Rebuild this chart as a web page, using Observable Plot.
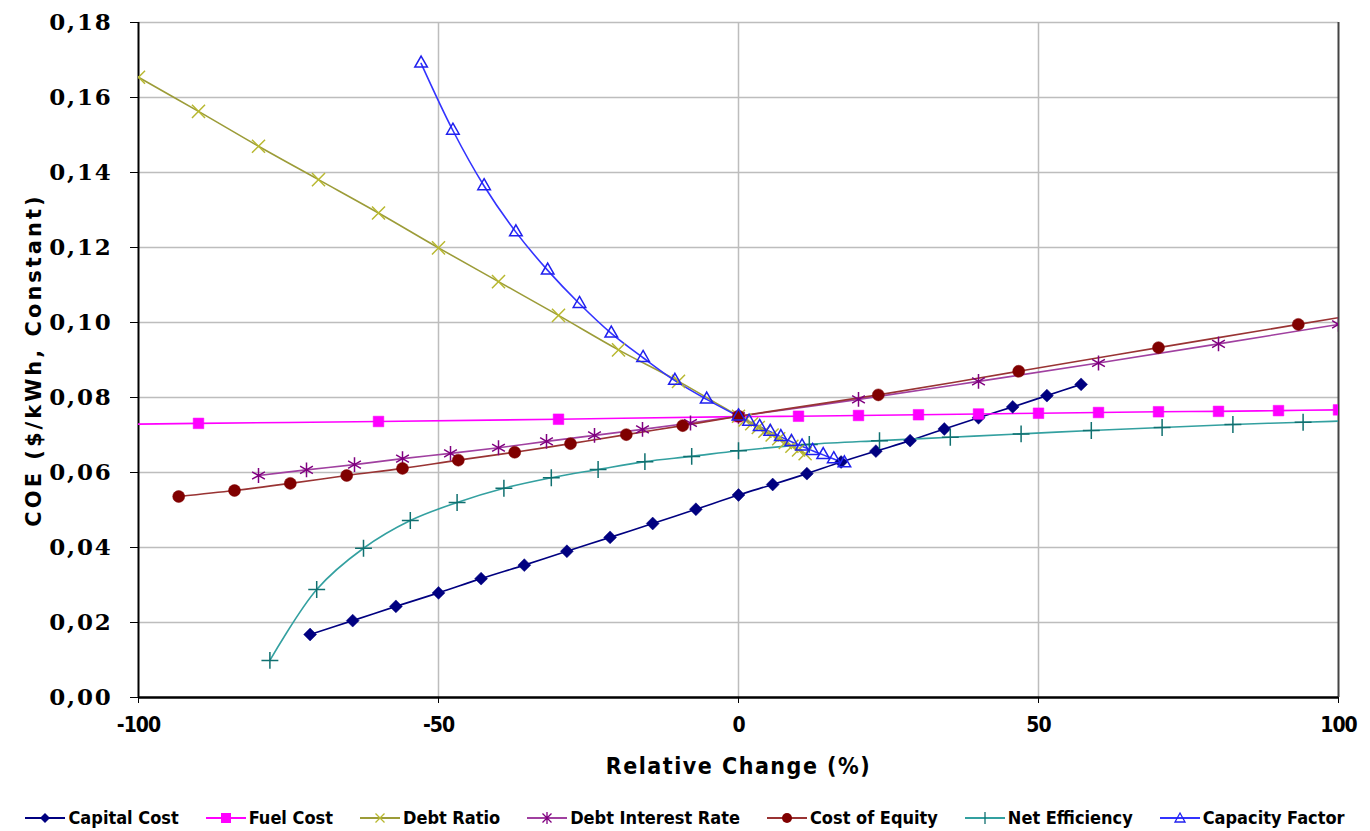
<!DOCTYPE html>
<html><head><meta charset="utf-8">
<script src="https://cdn.jsdelivr.net/npm/d3@7"></script>
<script src="https://cdn.jsdelivr.net/npm/@observablehq/plot@0.6"></script>
<style>
body{margin:0;background:#fff;}
#chart svg{display:block;overflow:visible;background:#fff}
#chart g[aria-label="y-axis tick label"] text{font-family:"DejaVu Serif",serif;font-weight:bold;font-size:23px;letter-spacing:1.8px;fill:#000}
#chart g[aria-label="x-axis tick label"] text{font-family:"DejaVu Sans Condensed",sans-serif;font-weight:bold;font-size:21px;letter-spacing:-1px;fill:#000}
#chart g[aria-label="x-axis label"] text{font-family:"DejaVu Sans Condensed",sans-serif;font-weight:bold;font-size:23px;letter-spacing:1.5px;fill:#000}
#chart g[aria-label="y-axis label"] text{font-family:"DejaVu Sans",sans-serif;font-weight:bold;font-size:21px;letter-spacing:3px;fill:#000}
#legend{display:flex;justify-content:center;align-items:center;gap:27px;height:41px;padding-top:14px;box-sizing:border-box;font-family:"DejaVu Sans Condensed",sans-serif;font-weight:bold;font-size:18px;color:#000}
#legend .item{display:flex;align-items:center;gap:3px}
</style></head><body>
<div id="chart"></div>
<div id="legend"></div>
<script>
// ---- data ----
const seriesNames = ["Capital Cost","Fuel Cost","Debt Ratio","Debt Interest Rate","Cost of Equity","Net Efficiency","Capacity Factor"];

const capitalX = [-71.4,-64.3,-57.1,-50,-42.9,-35.7,-28.6,-21.4,-14.3,-7.1,0,5.7,11.4,17.1,22.9,28.6,34.3,40,45.7,51.4,57.1];
const capitalY = [0.0168,0.0205,0.0243,0.0279,0.0317,0.0353,0.0390,0.0427,0.0464,0.0502,0.0540,0.0568,0.0597,0.0628,0.0657,0.0685,0.0716,0.0746,0.0775,0.0805,0.0835];

const fuelX = [-120,-90,-60,-30,0,10,20,30,40,50,60,70,80,90,100];
const fuelY = [0.0725,0.0731,0.0736,0.0742,0.0749,0.0750,0.0752,0.0754,0.0756,0.0758,0.0760,0.0762,0.0763,0.0765,0.0767];

const debtRatioX = [-100,-90,-80,-70,-60,-50,-40,-30,-20,-10,0,1.1,2.2,3.3,4.4,5.6,6.7,7.8,8.9,10,11.1];
const debtRatioY = [0.1654,0.1563,0.1470,0.1381,0.1292,0.1199,0.1109,0.1019,0.0927,0.0843,0.0750,0.0740,0.0730,0.0720,0.0710,0.0700,0.0690,0.0680,0.0670,0.0660,0.0650];

const debtRateX = [-80,-72,-64,-56,-48,-40,-32,-24,-16,-8,0,20,40,60,80,100];
const debtRateY = [0.0592,0.0607,0.0621,0.0637,0.0651,0.0666,0.0683,0.0699,0.0715,0.0732,0.0750,0.0795,0.0843,0.0892,0.0943,0.0995];

const equityX = [-93.3,-84,-74.7,-65.3,-56,-46.7,-37.3,-28,-18.7,-9.3,0,23.3,46.7,70,93.3,116.7];
const equityY = [0.0536,0.0552,0.0571,0.0592,0.0611,0.0633,0.0654,0.0677,0.0701,0.0725,0.0750,0.0807,0.0870,0.0933,0.0995,0.1057];

const efficiencyX = [-78.1,-70.3,-62.5,-54.7,-46.9,-39.1,-31.2,-23.4,-15.6,-7.8,0,11.8,23.5,35.3,47.1,58.8,70.6,82.4,94.1,105.9];
const efficiencyY = [0.0099,0.0288,0.0398,0.0472,0.0520,0.0558,0.0586,0.0608,0.0629,0.0643,0.0658,0.0675,0.0685,0.0694,0.0703,0.0712,0.0720,0.0728,0.0734,0.0740];

const capacityX = [-52.9,-47.6,-42.4,-37.1,-31.8,-26.5,-21.2,-15.9,-10.6,-5.3,0,1.76,3.53,5.29,7.06,8.82,10.59,12.35,14.12,15.88,17.65];
const capacityY = [0.1691,0.1512,0.1364,0.1241,0.1139,0.1050,0.0971,0.0906,0.0845,0.0795,0.0750,0.0736,0.0722,0.0709,0.0695,0.0682,0.0670,0.0658,0.0647,0.0636,0.0625];

const xTicks = [-100,-50,0,50,100];
const yTicks = [0,0.02,0.04,0.06,0.08,0.10,0.12,0.14,0.16,0.18];

// ---- styles ----
const styles = [
  {line:"#000080", mark:"#000080", symbol:"diamond2", fill:true, r:5.8},
  {line:"#ff00ff", mark:"#ff00ff", symbol:"square", fill:true, r:6},
  {line:"#9c9c38", mark:"#b8b830", symbol:"times", fill:false, r:6},
  {line:"#a040a0", mark:"#800080", symbol:"asterisk", fill:false, r:7},
  {line:"#993333", mark:"#800000", symbol:"circle", fill:true, r:6},
  {line:"#33a0a0", mark:"#107070", symbol:"plus", fill:false, r:5.5},
  {line:"#3333ff", mark:"#2020ee", symbol:"triangle2", fill:false, r:6}
];
const xs = [capitalX,fuelX,debtRatioX,debtRateX,equityX,efficiencyX,capacityX];
const ys = [capitalY,fuelY,debtRatioY,debtRateY,equityY,efficiencyY,capacityY];
const tables = xs.map((X,i)=>X.map((x,j)=>({series:seriesNames[i], x, y:ys[i][j]})));

const marks = [
  Plot.gridY(yTicks.filter(d=>d>0), {stroke:"#bdbdbd", strokeOpacity:1, strokeWidth:1.5}),
  Plot.gridX([-50,0,50], {stroke:"#bdbdbd", strokeOpacity:1, strokeWidth:1.5}),
  Plot.ruleX([100], {stroke:"#444", strokeWidth:2}),
  Plot.axisY({ticks:yTicks, tickFormat:d=>d3.format(".2f")(d).replace(".",","), tickSize:8, tickPadding:18,
    label:"COE ($/kWh, Constant)", labelAnchor:"center", labelOffset:112, labelArrow:"none"}),
  Plot.axisX({ticks:xTicks, tickFormat:d=>String(d), tickSize:6, tickPadding:14,
    label:"Relative Change (%)", labelAnchor:"center", labelOffset:76, labelArrow:"none"}),
  Plot.ruleX([-100], {stroke:"#000", strokeWidth:2}),
  Plot.ruleY([0], {stroke:"#000", strokeWidth:2.5})
];
tables.forEach((t,i)=>{
  const s = styles[i];
  marks.push(Plot.line(t, {x:"x", y:"y", stroke:s.line, strokeWidth:1.6, curve:"catmull-rom", clip:true}));
});
tables.forEach((t,i)=>{
  const s = styles[i];
  marks.push(Plot.dot(t, {x:"x", y:"y", symbol:()=>s.symbol, r:s.r,
    fill: s.fill ? s.mark : "none", stroke: s.mark, strokeWidth: s.fill ? 0.5 : 1.5, clip:true}));
});

const chart = Plot.plot({
  width:1370, height:790,
  marginLeft:138, marginRight:32, marginTop:22, marginBottom:93,
  style:{background:"#fff", overflow:"visible"},
  x:{domain:[-100,100]},
  y:{domain:[0,0.18]},
  symbol:{domain:styles.map(s=>s.symbol), range:styles.map(s=>s.symbol)},
  marks
});
document.getElementById("chart").appendChild(chart);

// ---- legend ----
const sym = {
  diamond2:(c)=>`<path d="M20,5 L25,10 L20,15 L15,10Z" fill="${c}"/>`,
  square:(c)=>`<rect x="15" y="5" width="10" height="10" fill="${c}"/>`,
  times:(c)=>`<path d="M15.5,5.5 L24.5,14.5 M24.5,5.5 L15.5,14.5" stroke="${c}" stroke-width="1.3"/>`,
  asterisk:(c)=>`<path d="M15.5,5.5 L24.5,14.5 M24.5,5.5 L15.5,14.5 M20,4 L20,16" stroke="${c}" stroke-width="1.3"/>`,
  circle:(c)=>`<circle cx="20" cy="10" r="5" fill="${c}"/>`,
  plus:(c)=>`<path d="M20,4 L20,16" stroke="${c}" stroke-width="1.3"/>`,
  triangle2:(c)=>`<path d="M20,5 L25,14 L15,14Z" fill="none" stroke="${c}" stroke-width="1.3"/>`
};
const legend = document.getElementById("legend");
seriesNames.forEach((n,i)=>{
  const s = styles[i];
  const item = document.createElement("div");
  item.className = "item";
  item.innerHTML = `<svg width="40" height="20"><line x1="0" y1="10" x2="40" y2="10" stroke="${s.line}" stroke-width="2"/>${sym[s.symbol](s.mark)}</svg><span>${n}</span>`;
  legend.appendChild(item);
});
</script>
</body></html>
